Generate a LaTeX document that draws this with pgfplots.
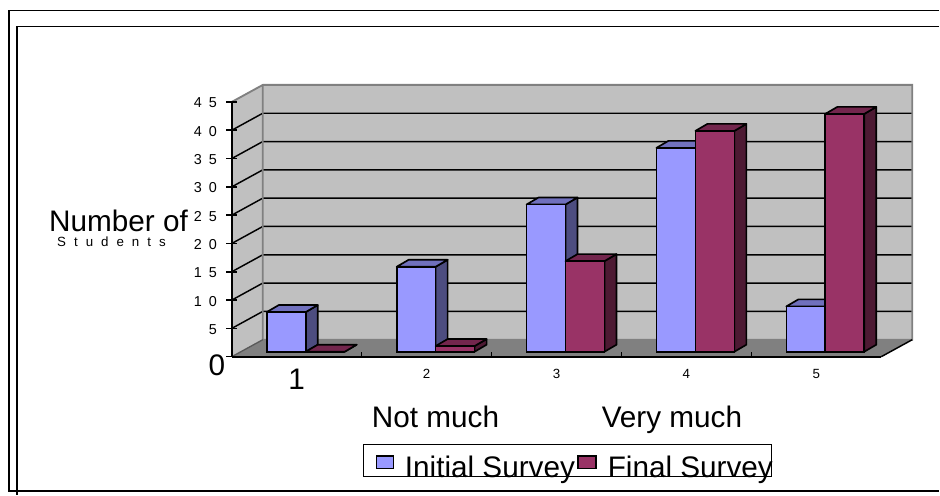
\documentclass[border=0pt]{standalone}
\usepackage{fontspec}
\setmainfont{Liberation Sans}
\usepackage{pgfplots}
\pgfplotsset{compat=1.18}
\definecolor{ifront}{HTML}{9999FF}
\definecolor{iside}{HTML}{4D4D80}
\definecolor{itop}{HTML}{7070BD}
\definecolor{ffront}{HTML}{993366}
\definecolor{fside}{HTML}{4D1A33}
\definecolor{ftop}{HTML}{73264D}
\definecolor{wall}{HTML}{C0C0C0}
\definecolor{flr}{HTML}{808080}
% #1 left edge (category units), #2 value, #3 side colour, #4 top colour
\newcommand\depthfaces[4]{%
  \pgfmathsetmacro\dxl{#1+0.0692}%
  \pgfmathsetmacro\dxr{#1+0.3692}%
  \pgfmathsetmacro\dxlb{#1+0.1615}%
  \pgfmathsetmacro\dxrb{#1+0.4615}%
  \pgfmathsetmacro\dvf{#2+0.882}%
  \pgfmathsetmacro\dvb{#2+2.117}%
  \addplot[fill=#3,draw=black,line width=1.25pt,line join=round] coordinates {(\dxr,0.882)(\dxr,\dvf)(\dxrb,\dvb)(\dxrb,2.117)} --cycle;
  \addplot[fill=#4,draw=black,line width=1.25pt,line join=round] coordinates {(\dxl,\dvf)(\dxr,\dvf)(\dxrb,\dvb)(\dxlb,\dvb)} --cycle;
}
\newcommand\gridat[2]{\addplot[black,line width=1.1pt] coordinates {(0.5,#1)(0.7385,#2)(5.7385,#2)};}
\def\yl#1#2{{\fontsize{10.8pt}{10.8pt}\selectfont #1\hspace{5.3pt}#2}}
\def\xs#1{{\fontsize{10pt}{10pt}\selectfont #1}}
\def\big#1{{\fontsize{22.3pt}{22.3pt}\selectfont #1}}
\begin{document}
\begin{tikzpicture}
\path (0,0) rectangle (705pt,371.25pt);
\begin{axis}[
  at={(174pt,103.5pt)},anchor=south west,
  scale only axis,width=487.5pt,height=191.25pt,
  xmin=0.5,xmax=5.5,ymin=0,ymax=45,
  clip=false,axis on top,
  axis x line*=bottom,axis y line*=left,
  axis line style={-,line width=1.3pt,black},
  xtick={1,2,3,4,5},
  xticklabels={{\raisebox{-2.5pt}{\big{1}}\hspace{-0pt}},{\xs{2}\hspace{7pt}},{\xs{3}\hspace{7pt}},{\xs{4}\hspace{7pt}},{\xs{5}\hspace{7pt}}},
  minor xtick={1.5,2.5,3.5,4.5},
  ytick={0,5,10,15,20,25,30,35,40,45},
  yticklabels={{\raisebox{-13.5pt}[0pt][0pt]{\makebox[6.2pt][l]{\big{0}}}},\yl{}{5},\yl{1}{0},\yl{1}{5},\yl{2}{0},\yl{2}{5},\yl{3}{0},\yl{3}{5},\yl{4}{0},\yl{4}{5}},
  major tick length=8pt,minor tick length=3.5pt,
  xtick align=inside,ytick align=center,
  x tick style={draw=none},
  minor x tick style={draw=black,line width=1pt},
  y tick style={black,line width=1.1pt},
  xticklabel style={inner sep=0pt,anchor=north,yshift=-9pt},
  yticklabel style={inner sep=0pt,anchor=east,xshift=-7pt,yshift=-0.8pt},
]
% walls and floor
\addplot[fill=wall,draw=none] coordinates {(0.5,0)(0.7385,3)(0.7385,48)(0.5,45)} --cycle;
\addplot[fill=wall,draw=none] coordinates {(0.7385,3)(5.7385,3)(5.7385,48)(0.7385,48)} --cycle;
\addplot[fill=flr,draw=none] coordinates {(0.5,0)(0.7385,3)(5.7385,3)(5.5,0)} --cycle;
\gridat{5}{8}\gridat{10}{13}\gridat{15}{18}\gridat{20}{23}
\gridat{25}{28}\gridat{30}{33}\gridat{35}{38}\gridat{40}{43}
\addplot[flr,line width=1.4pt] coordinates {(0.5,45)(0.7385,48)(5.7385,48)(5.7385,3)(0.7385,3)(0.7385,48)};
\addplot[flr!70!black,line width=1pt] coordinates {(0.5,0)(0.7385,3)};
\addplot[black,line width=1.1pt] coordinates {(5.5,0)(5.7385,3)};
% Initial Survey
\depthfaces{0.7}{7}{iside}{itop}
\depthfaces{1.7}{15}{iside}{itop}
\depthfaces{2.7}{26}{iside}{itop}
\depthfaces{3.7}{36}{iside}{itop}
\depthfaces{4.7}{8}{iside}{itop}
\addplot[ybar,bar width=29.25pt,bar shift=-14.625pt,xshift=6.75pt,yshift=3.75pt,fill=ifront,draw=black,line width=1.25pt]
  coordinates {(1,7)(2,15)(3,26)(4,36)(5,8)};
% Final Survey
\depthfaces{1.0}{0}{fside}{ftop}
\depthfaces{2.0}{1}{fside}{ftop}
\depthfaces{3.0}{16}{fside}{ftop}
\depthfaces{4.0}{39}{fside}{ftop}
\depthfaces{5.0}{42}{fside}{ftop}
\addplot[ybar,bar width=29.25pt,bar shift=14.625pt,xshift=6.75pt,yshift=3.75pt,fill=ffront,draw=black,line width=1.25pt]
  coordinates {(1,0)(2,1)(3,16)(4,39)(5,42)};
\end{axis}
\begin{scope}[x=0.75pt,y=-0.75pt,yshift=371.25pt]
\draw[line width=1.2pt] (940,10.5) -- (9,10.5) -- (9,491.5) -- (940,491.5);
\draw[line width=1.2pt] (940,26.5) -- (17,26.5) -- (17,495);
\node[anchor=base west,inner sep=0pt] at (49,232) {\big{Number of}};
\node[anchor=base west,inner sep=0pt] at (57,247) {\fontsize{10pt}{10pt}\selectfont S\hspace{6pt}t\hspace{6pt}u\hspace{6pt}d\hspace{6pt}e\hspace{6pt}n\hspace{6pt}t\hspace{6pt}s};
\node[anchor=base west,inner sep=0pt] at (372,428) {\big{Not much}};
\node[anchor=base west,inner sep=0pt] at (602,428) {\big{Very much}};
\draw[line width=1pt,fill=white] (364,445) rectangle (772,477);
\draw[line width=1pt,fill=ifront] (376.5,456.5) rectangle (393.5,469);
\draw[line width=1pt,fill=ffront] (578.5,456.5) rectangle (596.5,469);
\node[anchor=base west,inner sep=0pt] at (405,478) {\big{Initial Survey}};
\node[anchor=base west,inner sep=0pt] at (608,478) {\big{Final Survey}};
\end{scope}
\end{tikzpicture}
\end{document}
